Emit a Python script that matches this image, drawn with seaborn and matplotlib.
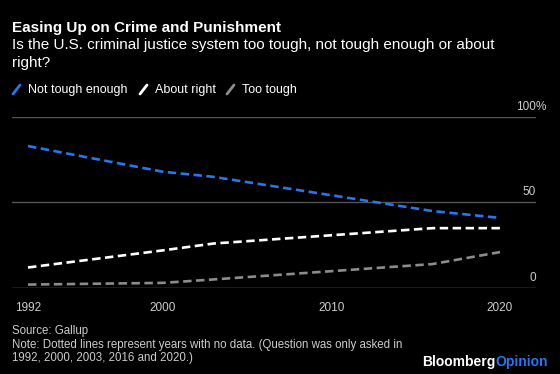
import numpy as np
import pandas as pd
import matplotlib.pyplot as plt
from matplotlib.lines import Line2D
import matplotlib.transforms as mtransforms
import seaborn as sns

# data (share of respondents, %)
years = [1992, 2000, 2003, 2016, 2020]
not_tough_enough = [83, 68, 65, 45, 41]
about_right = [12, 22, 26, 35, 35]
too_tough = [2, 3, 5, 14, 21]

series_names = ["Not tough enough", "About right", "Too tough"]
series_colors = ["#2477f0", "#ffffff", "#8c8c8c"]
x_ticks = [1992, 2000, 2010, 2020]
y_ticks = [0, 50, 100]
y_tick_labels = ["0", "50", "100"]

df = pd.DataFrame({
    "year": years * 3,
    "value": not_tough_enough + about_right + too_tough,
    "series": [s for s in series_names for _ in years],
})

sns.set_style("dark")
plt.rcParams.update({
    "font.family": ["Liberation Sans", "DejaVu Sans"],
    "figure.facecolor": "black",
    "axes.facecolor": "black",
    "savefig.facecolor": "black",
})

W, H = 560, 374
fig = plt.figure(figsize=(W / 100, H / 100), dpi=100)
ax = fig.add_axes([12 / W, 1 - 288 / H, (536 - 12) / W, (288 - 117) / H])

palette = dict(zip(series_names, series_colors))
sns.lineplot(data=df, x="year", y="value", hue="series", palette=palette,
             linewidth=1.9, legend=False, ax=ax)
for line in ax.get_lines():
    line.set_dashes((3.2, 1.7))

ax.set_xlim(1991.05, 2022.14)
ax.set_ylim(0, 100)
ax.set_xlabel("")
ax.set_ylabel("")
for s in ax.spines.values():
    s.set_visible(False)

# gridlines
for y in y_ticks[1:]:
    ax.axhline(y, color="#555555", linewidth=1.0, zorder=0)
ax.axhline(0, color="#8a8a8a", linewidth=1.0, zorder=0)

ax.set_yticks([])
ax.set_xticks(x_ticks)
ax.set_xticklabels([str(x) for x in x_ticks])
ax.tick_params(axis="x", colors="#8a8a8a", length=4, width=1, pad=6,
               labelcolor="#cccccc", labelsize=8.5)
ax.grid(False)

# y labels sit inside the plot, right-aligned above their gridline; % hangs past the edge
off = mtransforms.offset_copy(ax.get_yaxis_transform(), fig=fig, x=0, y=7, units="dots")
for y, lab in zip(y_ticks, y_tick_labels):
    ax.text(1.0, y, lab, transform=off, ha="right", va="baseline",
            color="#cccccc", fontsize=8.5)
ax.text(1.0, y_ticks[-1], "%", transform=off, ha="left", va="baseline",
        color="#cccccc", fontsize=8.5)

# header
fig.text(12 / W, 1 - 32 / H, "Easing Up on Crime and Punishment", color="white",
         fontsize=11, fontweight="bold", va="baseline")
fig.text(12 / W, 1 - 49 / H, "Is the U.S. criminal justice system too tough, not tough enough or about",
         color="white", fontsize=11, va="baseline")
fig.text(12 / W, 1 - 67 / H, "right?", color="white", fontsize=11, va="baseline")

# legend with slanted swatches
leg_x = [13, 140, 227]
for name, col, lx in zip(series_names, series_colors, leg_x):
    fig.add_artist(Line2D([lx / W, (lx + 7) / W], [1 - 94 / H, 1 - 85 / H],
                          color=col, linewidth=2, transform=fig.transFigure))
    fig.text((lx + 15) / W, 1 - 93 / H, name, color="white", fontsize=9, va="baseline")

# footer
fig.text(12 / W, 1 - 334 / H, "Source: Gallup", color="#cccccc", fontsize=8.3, va="baseline")
fig.text(12 / W, 1 - 348 / H,
         "Note: Dotted lines represent years with no data. (Question was only asked in",
         color="#cccccc", fontsize=8.3, va="baseline")
fig.text(12 / W, 1 - 361 / H, "1992, 2000, 2003, 2016 and 2020.)", color="#cccccc",
         fontsize=8.3, va="baseline")
t1 = fig.text(548 / W, 1 - 366 / H, "Opinion", color="#2477f0", fontsize=10,
              fontweight="bold", ha="right", va="baseline")
fig.canvas.draw()
bb = t1.get_window_extent()
fig.text(bb.x0 / W, 1 - 366 / H, "Bloomberg", color="white", fontsize=10,
         fontweight="bold", ha="right", va="baseline")

fig.savefig("out.png", dpi=100)
